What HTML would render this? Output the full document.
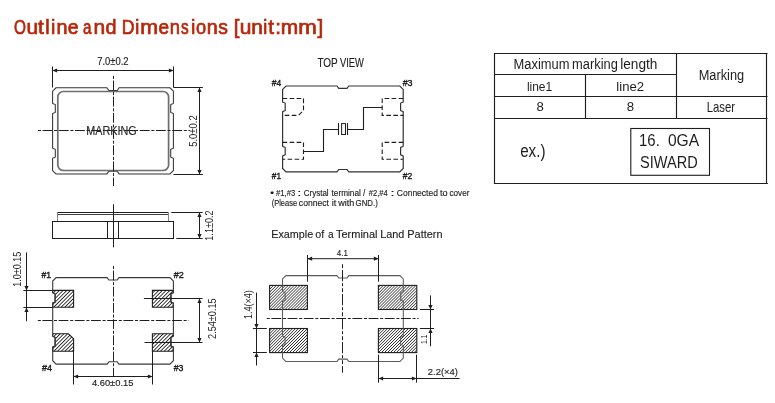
<!DOCTYPE html>
<html><head><meta charset="utf-8"><title>Outline and Dimensions</title>
<style>html,body{margin:0;padding:0;background:#fff;}body{width:775px;height:403px;overflow:hidden;font-family:"Liberation Sans",sans-serif;}svg{display:block;will-change:transform;}</style>
</head><body>
<svg width="775" height="403" viewBox="0 0 775 403">
<defs>
<pattern id="h1" width="2.1" height="4" patternUnits="userSpaceOnUse" patternTransform="rotate(45)"><rect x="0" y="0" width="0.66" height="4" fill="#1e1e1e"/></pattern>
<pattern id="h2" width="2.6" height="4" patternUnits="userSpaceOnUse" patternTransform="rotate(45)"><rect x="0" y="0" width="0.85" height="4" fill="#1e1e1e"/></pattern>
</defs>
<rect width="775" height="403" fill="#fff"/>
<g font-family="Liberation Sans, sans-serif">
<text x="13.97" y="33.60" font-size="20.60" textLength="11.96" lengthAdjust="spacingAndGlyphs" fill="#b8270b" stroke="#b8270b" stroke-width="0.7">O</text>
<text x="26.64" y="33.60" font-size="19.60" textLength="11.65" lengthAdjust="spacingAndGlyphs" fill="#b8270b" stroke="#b8270b" stroke-width="0.7">u</text>
<text x="38.09" y="33.60" font-size="19.60" textLength="5.77" lengthAdjust="spacingAndGlyphs" fill="#b8270b" stroke="#b8270b" stroke-width="0.7">t</text>
<text x="45.27" y="33.60" font-size="19.60" textLength="4.35" lengthAdjust="spacingAndGlyphs" fill="#b8270b" stroke="#b8270b" stroke-width="0.7">l</text>
<text x="50.98" y="33.60" font-size="19.60" textLength="4.35" lengthAdjust="spacingAndGlyphs" fill="#b8270b" stroke="#b8270b" stroke-width="0.7">i</text>
<text x="56.49" y="33.60" font-size="19.60" textLength="11.00" lengthAdjust="spacingAndGlyphs" fill="#b8270b" stroke="#b8270b" stroke-width="0.7">n</text>
<text x="67.68" y="33.60" font-size="19.60" textLength="10.79" lengthAdjust="spacingAndGlyphs" fill="#b8270b" stroke="#b8270b" stroke-width="0.7">e</text>
<text x="83.05" y="33.60" font-size="19.60" textLength="8.45" lengthAdjust="spacingAndGlyphs" fill="#b8270b" stroke="#b8270b" stroke-width="0.7">a</text>
<text x="93.51" y="33.60" font-size="19.60" textLength="11.65" lengthAdjust="spacingAndGlyphs" fill="#b8270b" stroke="#b8270b" stroke-width="0.7">n</text>
<text x="105.57" y="33.60" font-size="19.60" textLength="11.01" lengthAdjust="spacingAndGlyphs" fill="#b8270b" stroke="#b8270b" stroke-width="0.7">d</text>
<text x="121.65" y="33.60" font-size="20.60" textLength="12.80" lengthAdjust="spacingAndGlyphs" fill="#b8270b" stroke="#b8270b" stroke-width="0.7">D</text>
<text x="135.08" y="33.60" font-size="19.60" textLength="4.35" lengthAdjust="spacingAndGlyphs" fill="#b8270b" stroke="#b8270b" stroke-width="0.7">i</text>
<text x="140.28" y="33.60" font-size="19.60" textLength="17.83" lengthAdjust="spacingAndGlyphs" fill="#b8270b" stroke="#b8270b" stroke-width="0.7">m</text>
<text x="158.49" y="33.60" font-size="19.60" textLength="10.55" lengthAdjust="spacingAndGlyphs" fill="#b8270b" stroke="#b8270b" stroke-width="0.7">e</text>
<text x="169.78" y="33.60" font-size="19.60" textLength="10.21" lengthAdjust="spacingAndGlyphs" fill="#b8270b" stroke="#b8270b" stroke-width="0.7">n</text>
<text x="180.97" y="33.60" font-size="19.60" textLength="7.68" lengthAdjust="spacingAndGlyphs" fill="#b8270b" stroke="#b8270b" stroke-width="0.7">s</text>
<text x="191.03" y="33.60" font-size="19.60" textLength="4.35" lengthAdjust="spacingAndGlyphs" fill="#b8270b" stroke="#b8270b" stroke-width="0.7">i</text>
<text x="196.04" y="33.60" font-size="19.60" textLength="10.13" lengthAdjust="spacingAndGlyphs" fill="#b8270b" stroke="#b8270b" stroke-width="0.7">o</text>
<text x="206.69" y="33.60" font-size="19.60" textLength="11.00" lengthAdjust="spacingAndGlyphs" fill="#b8270b" stroke="#b8270b" stroke-width="0.7">n</text>
<text x="218.36" y="33.60" font-size="19.60" textLength="9.63" lengthAdjust="spacingAndGlyphs" fill="#b8270b" stroke="#b8270b" stroke-width="0.7">s</text>
<text x="233.83" y="33.60" font-size="20.60" textLength="5.72" lengthAdjust="spacingAndGlyphs" fill="#b8270b" stroke="#b8270b" stroke-width="0.7">[</text>
<text x="239.74" y="33.60" font-size="19.60" textLength="11.65" lengthAdjust="spacingAndGlyphs" fill="#b8270b" stroke="#b8270b" stroke-width="0.7">u</text>
<text x="251.21" y="33.60" font-size="19.60" textLength="11.65" lengthAdjust="spacingAndGlyphs" fill="#b8270b" stroke="#b8270b" stroke-width="0.7">n</text>
<text x="263.03" y="33.60" font-size="19.60" textLength="4.35" lengthAdjust="spacingAndGlyphs" fill="#b8270b" stroke="#b8270b" stroke-width="0.7">i</text>
<text x="268.19" y="33.60" font-size="19.60" textLength="5.77" lengthAdjust="spacingAndGlyphs" fill="#b8270b" stroke="#b8270b" stroke-width="0.7">t</text>
<text x="275.34" y="33.60" font-size="20.60" textLength="5.72" lengthAdjust="spacingAndGlyphs" fill="#b8270b" stroke="#b8270b" stroke-width="0.7">:</text>
<text x="280.82" y="33.60" font-size="19.60" textLength="17.36" lengthAdjust="spacingAndGlyphs" fill="#b8270b" stroke="#b8270b" stroke-width="0.7">m</text>
<text x="298.22" y="33.60" font-size="19.60" textLength="18.55" lengthAdjust="spacingAndGlyphs" fill="#b8270b" stroke="#b8270b" stroke-width="0.7">m</text>
<text x="317.49" y="33.60" font-size="20.60" textLength="5.72" lengthAdjust="spacingAndGlyphs" fill="#b8270b" stroke="#b8270b" stroke-width="0.7">]</text>
<path d="M56.0,87.8 L106.89999999999999,87.8 L108.8,90.5 L117.2,90.5 L119.10000000000001,87.8 L170.0,87.8 L173.4,91.2 L173.4,103.39999999999999 C173.4,103.99999999999999 170.70000000000002,103.8 170.70000000000002,104.6 L170.70000000000002,112.3 C170.70000000000002,113.1 173.4,112.9 173.4,113.5 L173.4,148.20000000000002 C173.4,148.8 170.70000000000002,148.60000000000002 170.70000000000002,149.4 L170.70000000000002,157.10000000000002 C170.70000000000002,157.9 173.4,157.70000000000002 173.4,158.3 L173.4,170.5 L170.0,173.9 L119.10000000000001,173.9 L117.2,171.20000000000002 L108.8,171.20000000000002 L106.89999999999999,173.9 L56.0,173.9 L52.6,170.5 L52.6,158.3 C52.6,157.70000000000002 55.300000000000004,157.9 55.300000000000004,157.10000000000002 L55.300000000000004,149.4 C55.300000000000004,148.60000000000002 52.6,148.8 52.6,148.20000000000002 L52.6,113.5 C52.6,112.9 55.300000000000004,113.1 55.300000000000004,112.3 L55.300000000000004,104.6 C55.300000000000004,103.8 52.6,103.99999999999999 52.6,103.39999999999999 L52.6,91.2 Z" stroke="#333" stroke-width="1.05" fill="none" />
<rect x="57.8" y="91.5" width="110.8" height="79" rx="5.6" ry="5.6" fill="none" stroke="#6e6e6e" stroke-width="1.7"/>
<line x1="38" y1="130.5" x2="190" y2="130.5" stroke="#1e1e1e" stroke-width="1" stroke-dasharray="3 1.6 9.8 1.8"/>
<line x1="113.5" y1="75.9" x2="113.5" y2="186" stroke="#1e1e1e" stroke-width="1" stroke-dasharray="3 1.6 9.8 1.8"/>
<text x="86.21" y="134.60" font-size="12.20" textLength="50.39" lengthAdjust="spacingAndGlyphs" fill="#2a2a2a"  stroke="#2a2a2a" stroke-width="0.15">MARKING</text>
<line x1="52.5" y1="66.5" x2="52.5" y2="87.5" stroke="#1e1e1e" stroke-width="1" />
<line x1="173.5" y1="66.5" x2="173.5" y2="87.5" stroke="#1e1e1e" stroke-width="1" />
<line x1="52.5" y1="70.5" x2="173.5" y2="70.5" stroke="#1e1e1e" stroke-width="1" />
<polygon points="52.50,70.50 57.10,68.40 57.10,72.60" fill="#1e1e1e"/>
<polygon points="173.50,70.50 168.90,68.40 168.90,72.60" fill="#1e1e1e"/>
<text x="97.22" y="64.90" font-size="10.20" textLength="31.36" lengthAdjust="spacingAndGlyphs" fill="#1e1e1e"  stroke="#1e1e1e" stroke-width="0.15">7.0±0.2</text>
<line x1="173.5" y1="87.5" x2="202.8" y2="87.5" stroke="#1e1e1e" stroke-width="1" />
<line x1="173.5" y1="174.5" x2="202.8" y2="174.5" stroke="#1e1e1e" stroke-width="1" />
<line x1="199.5" y1="87.5" x2="199.5" y2="174.5" stroke="#1e1e1e" stroke-width="1" />
<polygon points="199.50,87.50 197.40,92.10 201.60,92.10" fill="#1e1e1e"/>
<polygon points="199.50,174.50 197.40,169.90 201.60,169.90" fill="#1e1e1e"/>
<text  transform="translate(197.10,146.40) rotate(-90)" x="-0.38" y="0" font-size="10.30" textLength="31.45" lengthAdjust="spacingAndGlyphs" fill="#1e1e1e">5.0±0.2</text>
<line x1="57.3" y1="212.5" x2="168.5" y2="212.5" stroke="#1e1e1e" stroke-width="1" />
<line x1="57.3" y1="214.5" x2="168.5" y2="214.5" stroke="#1e1e1e" stroke-width="1" stroke-opacity="0.85"/>
<line x1="57.5" y1="212.5" x2="57.5" y2="221" stroke="#888" stroke-width="1" />
<line x1="168.5" y1="212.5" x2="168.5" y2="221" stroke="#888" stroke-width="1" />
<rect x="52.5" y="221.5" width="121" height="17" fill="none" stroke="#1e1e1e" stroke-width="1"/>
<line x1="107.5" y1="221.5" x2="107.5" y2="238.5" stroke="#1e1e1e" stroke-width="1" />
<line x1="118.5" y1="221.5" x2="118.5" y2="238.5" stroke="#1e1e1e" stroke-width="1" />
<line x1="113.5" y1="204.3" x2="113.5" y2="247.3" stroke="#1e1e1e" stroke-width="1" />
<line x1="171.3" y1="212.5" x2="202.7" y2="212.5" stroke="#1e1e1e" stroke-width="1" />
<line x1="176.3" y1="238.5" x2="202.7" y2="238.5" stroke="#1e1e1e" stroke-width="1" />
<line x1="199.5" y1="212.5" x2="199.5" y2="238.5" stroke="#1e1e1e" stroke-width="1" />
<polygon points="199.50,212.50 197.40,217.10 201.60,217.10" fill="#1e1e1e"/>
<polygon points="199.50,238.50 197.40,233.90 201.60,233.90" fill="#1e1e1e"/>
<text  transform="translate(213.30,240.00) rotate(-90)" x="-0.69" y="0" font-size="10.00" textLength="30.25" lengthAdjust="spacingAndGlyphs" fill="#1e1e1e">1.1±0.2</text>
<path d="M52.7,290.4 L73.6,290.4 L73.6,307.2 L52.7,307.2 L52.7,303.09999999999997 C52.7,302.49999999999994 55.1,302.7 55.1,301.9 L55.1,293.99999999999994 C55.1,293.19999999999993 52.7,293.4 52.7,292.79999999999995 Z" fill="url(#h2)" stroke="#1e1e1e" stroke-width="1.1"/>
<path d="M152.4,290.4 L173.3,290.4 L173.3,292.79999999999995 C173.3,293.4 170.9,293.19999999999993 170.9,293.99999999999994 L170.9,301.9 C170.9,302.7 173.3,302.49999999999994 173.3,303.09999999999997 L173.3,307.2 L152.4,307.2 Z" fill="url(#h2)" stroke="#1e1e1e" stroke-width="1.1"/>
<path d="M52.7,333.8 L68.39999999999999,333.8 L73.6,338.8 L73.6,351.2 L52.7,351.2 L52.7,347.09999999999997 C52.7,346.49999999999994 55.1,346.7 55.1,345.9 L55.1,337.4 C55.1,336.59999999999997 52.7,336.8 52.7,336.2 Z" fill="url(#h2)" stroke="#1e1e1e" stroke-width="1.1"/>
<path d="M152.4,333.8 L173.3,333.8 L173.3,336.2 C173.3,336.8 170.9,336.59999999999997 170.9,337.4 L170.9,345.9 C170.9,346.7 173.3,346.49999999999994 173.3,347.09999999999997 L173.3,351.2 L152.4,351.2 Z" fill="url(#h2)" stroke="#1e1e1e" stroke-width="1.1"/>
<path d="M56.1,277.6 L107.15000000000002,277.6 L108.95000000000002,280.0 L117.15,280.0 L118.95,277.6 L170.0,277.6 L173.4,281.0 L173.4,292.8 C173.4,293.40000000000003 171.0,293.2 171.0,294.0 L171.0,301.90000000000003 C171.0,302.70000000000005 173.4,302.5 173.4,303.1 L173.4,336.2 C173.4,336.8 171.0,336.59999999999997 171.0,337.4 L171.0,345.90000000000003 C171.0,346.70000000000005 173.4,346.5 173.4,347.1 L173.4,360.70000000000005 L170.0,364.1 L118.95,364.1 L117.15,361.70000000000005 L108.95000000000002,361.70000000000005 L107.15000000000002,364.1 L56.1,364.1 L52.7,360.70000000000005 L52.7,347.1 C52.7,346.5 55.1,346.70000000000005 55.1,345.90000000000003 L55.1,337.4 C55.1,336.59999999999997 52.7,336.8 52.7,336.2 L52.7,303.1 C52.7,302.5 55.1,302.70000000000005 55.1,301.90000000000003 L55.1,294.0 C55.1,293.2 52.7,293.40000000000003 52.7,292.8 L52.7,281.0 Z" stroke="#3a3a3a" stroke-width="1.1" fill="none" />
<line x1="37.8" y1="320.5" x2="188.6" y2="320.5" stroke="#1e1e1e" stroke-width="1" stroke-dasharray="3 1.6 9.8 1.8"/>
<line x1="113.5" y1="266" x2="113.5" y2="376.3" stroke="#1e1e1e" stroke-width="1" stroke-dasharray="3 1.6 9.8 1.8"/>
<text x="41.56" y="277.80" font-size="8.90" textLength="9.56" lengthAdjust="spacingAndGlyphs" fill="#1e1e1e" stroke="#1e1e1e" stroke-width="0.4">#1</text>
<text x="173.66" y="277.80" font-size="8.90" textLength="9.99" lengthAdjust="spacingAndGlyphs" fill="#1e1e1e" stroke="#1e1e1e" stroke-width="0.4">#2</text>
<text x="41.96" y="371.10" font-size="8.90" textLength="10.00" lengthAdjust="spacingAndGlyphs" fill="#1e1e1e" stroke="#1e1e1e" stroke-width="0.4">#4</text>
<text x="173.66" y="370.80" font-size="8.90" textLength="9.72" lengthAdjust="spacingAndGlyphs" fill="#1e1e1e" stroke="#1e1e1e" stroke-width="0.4">#3</text>
<line x1="23.4" y1="290.5" x2="52.7" y2="290.5" stroke="#1e1e1e" stroke-width="1" />
<line x1="23.4" y1="307.5" x2="52.7" y2="307.5" stroke="#1e1e1e" stroke-width="1" />
<line x1="26.5" y1="252.4" x2="26.5" y2="321.2" stroke="#1e1e1e" stroke-width="1" />
<polygon points="26.50,290.50 24.40,285.90 28.60,285.90" fill="#1e1e1e"/>
<polygon points="26.50,307.50 24.40,312.10 28.60,312.10" fill="#1e1e1e"/>
<text  transform="translate(20.90,286.00) rotate(-90)" x="-0.69" y="0" font-size="10.30" textLength="35.07" lengthAdjust="spacingAndGlyphs" fill="#1e1e1e">1.0±0.15</text>
<line x1="143.9" y1="298.5" x2="202.5" y2="298.5" stroke="#1e1e1e" stroke-width="1" />
<line x1="144.5" y1="342.5" x2="202.5" y2="342.5" stroke="#1e1e1e" stroke-width="1" />
<line x1="199.5" y1="298.5" x2="199.5" y2="342.5" stroke="#1e1e1e" stroke-width="1" />
<polygon points="199.50,298.50 197.40,303.10 201.60,303.10" fill="#1e1e1e"/>
<polygon points="199.50,342.50 197.40,337.90 201.60,337.90" fill="#1e1e1e"/>
<text  transform="translate(216.30,338.50) rotate(-90)" x="-0.46" y="0" font-size="10.10" textLength="40.64" lengthAdjust="spacingAndGlyphs" fill="#1e1e1e">2.54±0.15</text>
<line x1="73.5" y1="351.2" x2="73.5" y2="384.5" stroke="#1e1e1e" stroke-width="1" />
<line x1="152.5" y1="351.2" x2="152.5" y2="384.5" stroke="#1e1e1e" stroke-width="1" />
<line x1="73.5" y1="376.5" x2="152.5" y2="376.5" stroke="#1e1e1e" stroke-width="1" />
<polygon points="73.50,376.50 78.10,374.40 78.10,378.60" fill="#1e1e1e"/>
<polygon points="152.50,376.50 147.90,374.40 147.90,378.60" fill="#1e1e1e"/>
<text x="91.89" y="385.90" font-size="9.40" textLength="41.61" lengthAdjust="spacingAndGlyphs" fill="#1e1e1e"  stroke="#1e1e1e" stroke-width="0.15">4.60±0.15</text>
<text x="317.38" y="66.60" font-size="12.20" textLength="20.34" lengthAdjust="spacingAndGlyphs" fill="#1e1e1e"  stroke="#1e1e1e" stroke-width="0.15">TOP</text>
<text x="339.96" y="66.60" font-size="12.20" textLength="23.87" lengthAdjust="spacingAndGlyphs" fill="#1e1e1e"  stroke="#1e1e1e" stroke-width="0.15">VIEW</text>
<text x="271.86" y="85.90" font-size="9.20" textLength="9.38" lengthAdjust="spacingAndGlyphs" fill="#1e1e1e" stroke="#1e1e1e" stroke-width="0.4">#4</text>
<text x="402.66" y="85.90" font-size="9.20" textLength="9.93" lengthAdjust="spacingAndGlyphs" fill="#1e1e1e" stroke="#1e1e1e" stroke-width="0.4">#3</text>
<text x="271.86" y="178.90" font-size="9.20" textLength="9.14" lengthAdjust="spacingAndGlyphs" fill="#1e1e1e" stroke="#1e1e1e" stroke-width="0.4">#1</text>
<text x="402.66" y="178.90" font-size="9.20" textLength="9.47" lengthAdjust="spacingAndGlyphs" fill="#1e1e1e" stroke="#1e1e1e" stroke-width="0.4">#2</text>
<path d="M286.0,86.0 L336.99999999999994,86.0 L338.79999999999995,88.4 L347.0,88.4 L348.8,86.0 L399.8,86.0 L403.2,89.4 L403.2,102.0 C403.2,102.6 400.59999999999997,102.4 400.59999999999997,103.2 L400.59999999999997,110.39999999999999 C400.59999999999997,111.19999999999999 403.2,111.0 403.2,111.6 L403.2,146.3 C403.2,146.9 400.59999999999997,146.70000000000002 400.59999999999997,147.5 L400.59999999999997,154.70000000000002 C400.59999999999997,155.5 403.2,155.3 403.2,155.9 L403.2,168.5 L399.8,171.9 L348.8,171.9 L347.0,169.5 L338.79999999999995,169.5 L336.99999999999994,171.9 L286.0,171.9 L282.6,168.5 L282.6,155.9 C282.6,155.3 285.20000000000005,155.5 285.20000000000005,154.70000000000002 L285.20000000000005,147.5 C285.20000000000005,146.70000000000002 282.6,146.9 282.6,146.3 L282.6,111.6 C282.6,111.0 285.20000000000005,111.19999999999999 285.20000000000005,110.39999999999999 L285.20000000000005,103.2 C285.20000000000005,102.4 282.6,102.6 282.6,102.0 L282.6,89.4 Z" stroke="#333" stroke-width="1.2" fill="none" />
<path d="M282.6,98.5 L303.5,98.5 L303.5,110.6 L298.3,115.4 L282.6,115.4" stroke="#1e1e1e" stroke-width="1.1" fill="none" stroke-dasharray="4.6 2.4"/>
<path d="M403.2,98.5 L382.2,98.5 L382.2,115.4 L403.2,115.4" stroke="#1e1e1e" stroke-width="1.1" fill="none" stroke-dasharray="4.6 2.4"/>
<path d="M282.6,142.4 L303.5,142.4 L303.5,159.2 L282.6,159.2" stroke="#1e1e1e" stroke-width="1.1" fill="none" stroke-dasharray="4.6 2.4"/>
<path d="M403.2,142.4 L382.2,142.4 L382.2,159.2 L403.2,159.2" stroke="#1e1e1e" stroke-width="1.1" fill="none" stroke-dasharray="4.6 2.4"/>
<path d="M303.5,151.5 L323.5,151.5 L323.5,129.5 L338.5,129.5" stroke="#1e1e1e" stroke-width="1.1" fill="none" />
<path d="M382.2,107.5 L363.5,107.5 L363.5,129.5 L347.5,129.5" stroke="#1e1e1e" stroke-width="1.1" fill="none" />
<line x1="338.5" y1="123.1" x2="338.5" y2="135" stroke="#1e1e1e" stroke-width="1.1" />
<line x1="347.5" y1="123.1" x2="347.5" y2="135" stroke="#1e1e1e" stroke-width="1.1" />
<rect x="341.6" y="123.6" width="3.9" height="10.9" fill="none" stroke="#1e1e1e" stroke-width="1"/>
<text x="270.28" y="195.90" font-size="9.40" textLength="3.75" lengthAdjust="spacingAndGlyphs" fill="#1e1e1e"  stroke="#1e1e1e" stroke-width="0.15">•</text>
<text x="276.07" y="195.90" font-size="9.40" textLength="19.17" lengthAdjust="spacingAndGlyphs" fill="#1e1e1e"  stroke="#1e1e1e" stroke-width="0.15">#1,#3</text>
<text x="297.36" y="195.90" font-size="9.40" textLength="4.09" lengthAdjust="spacingAndGlyphs" fill="#1e1e1e"  stroke="#1e1e1e" stroke-width="0.15">:</text>
<text x="303.69" y="195.90" font-size="9.40" textLength="24.94" lengthAdjust="spacingAndGlyphs" fill="#1e1e1e"  stroke="#1e1e1e" stroke-width="0.15">Crystal</text>
<text x="331.58" y="195.90" font-size="9.40" textLength="29.28" lengthAdjust="spacingAndGlyphs" fill="#1e1e1e"  stroke="#1e1e1e" stroke-width="0.15">terminal</text>
<text x="363.00" y="195.90" font-size="9.40" textLength="2.30" lengthAdjust="spacingAndGlyphs" fill="#1e1e1e"  stroke="#1e1e1e" stroke-width="0.15">/</text>
<text x="368.87" y="195.90" font-size="9.40" textLength="18.85" lengthAdjust="spacingAndGlyphs" fill="#1e1e1e"  stroke="#1e1e1e" stroke-width="0.15">#2,#4</text>
<text x="390.56" y="195.90" font-size="9.40" textLength="4.09" lengthAdjust="spacingAndGlyphs" fill="#1e1e1e"  stroke="#1e1e1e" stroke-width="0.15">:</text>
<text x="396.77" y="195.90" font-size="9.40" textLength="41.18" lengthAdjust="spacingAndGlyphs" fill="#1e1e1e"  stroke="#1e1e1e" stroke-width="0.15">Connected</text>
<text x="440.06" y="195.90" font-size="9.40" textLength="7.62" lengthAdjust="spacingAndGlyphs" fill="#1e1e1e"  stroke="#1e1e1e" stroke-width="0.15">to</text>
<text x="449.45" y="195.90" font-size="9.40" textLength="19.98" lengthAdjust="spacingAndGlyphs" fill="#1e1e1e"  stroke="#1e1e1e" stroke-width="0.15">cover</text>
<text x="271.63" y="206.40" font-size="9.40" textLength="25.60" lengthAdjust="spacingAndGlyphs" fill="#1e1e1e"  stroke="#1e1e1e" stroke-width="0.15">(Please</text>
<text x="298.83" y="206.40" font-size="9.40" textLength="30.13" lengthAdjust="spacingAndGlyphs" fill="#1e1e1e"  stroke="#1e1e1e" stroke-width="0.15">connect</text>
<text x="331.79" y="206.40" font-size="9.40" textLength="4.58" lengthAdjust="spacingAndGlyphs" fill="#1e1e1e"  stroke="#1e1e1e" stroke-width="0.15">it</text>
<text x="338.21" y="206.40" font-size="9.40" textLength="16.07" lengthAdjust="spacingAndGlyphs" fill="#1e1e1e"  stroke="#1e1e1e" stroke-width="0.15">with</text>
<text x="355.61" y="206.40" font-size="9.40" textLength="22.18" lengthAdjust="spacingAndGlyphs" fill="#1e1e1e"  stroke="#1e1e1e" stroke-width="0.15">GND.)</text>
<text x="271.22" y="238.30" font-size="11.80" textLength="41.96" lengthAdjust="spacingAndGlyphs" fill="#1e1e1e"  stroke="#1e1e1e" stroke-width="0.15">Example</text>
<text x="315.35" y="238.30" font-size="11.80" textLength="8.93" lengthAdjust="spacingAndGlyphs" fill="#1e1e1e"  stroke="#1e1e1e" stroke-width="0.15">of</text>
<text x="327.97" y="238.30" font-size="11.80" textLength="5.63" lengthAdjust="spacingAndGlyphs" fill="#1e1e1e"  stroke="#1e1e1e" stroke-width="0.15">a</text>
<text x="335.96" y="238.30" font-size="11.80" textLength="41.55" lengthAdjust="spacingAndGlyphs" fill="#1e1e1e"  stroke="#1e1e1e" stroke-width="0.15">Terminal</text>
<text x="380.21" y="238.30" font-size="11.80" textLength="24.09" lengthAdjust="spacingAndGlyphs" fill="#1e1e1e"  stroke="#1e1e1e" stroke-width="0.15">Land</text>
<text x="407.30" y="238.30" font-size="11.80" textLength="35.20" lengthAdjust="spacingAndGlyphs" fill="#1e1e1e"  stroke="#1e1e1e" stroke-width="0.15">Pattern</text>
<rect x="269.6" y="285.4" width="37.799999999999955" height="24.100000000000023" fill="url(#h1)" stroke="#1e1e1e" stroke-width="1.1"/>
<rect x="269.6" y="328.5" width="37.799999999999955" height="24.100000000000023" fill="url(#h1)" stroke="#1e1e1e" stroke-width="1.1"/>
<rect x="378.4" y="285.4" width="38.400000000000034" height="24.100000000000023" fill="url(#h1)" stroke="#1e1e1e" stroke-width="1.1"/>
<rect x="378.4" y="328.5" width="38.400000000000034" height="24.100000000000023" fill="url(#h1)" stroke="#1e1e1e" stroke-width="1.1"/>
<path d="M285.9,275.6 L336.99999999999994,275.6 L338.79999999999995,278.0 L347.0,278.0 L348.8,275.6 L399.90000000000003,275.6 L403.3,279.0 L403.3,291.6 C403.3,292.20000000000005 400.7,292.0 400.7,292.8 L400.7,300.00000000000006 C400.7,300.80000000000007 403.3,300.6 403.3,301.20000000000005 L403.3,335.9 C403.3,336.5 400.7,336.29999999999995 400.7,337.09999999999997 L400.7,344.3 C400.7,345.1 403.3,344.9 403.3,345.5 L403.3,358.1 L399.90000000000003,361.5 L348.8,361.5 L347.0,359.1 L338.79999999999995,359.1 L336.99999999999994,361.5 L285.9,361.5 L282.5,358.1 L282.5,345.5 C282.5,344.9 285.1,345.1 285.1,344.3 L285.1,337.09999999999997 C285.1,336.29999999999995 282.5,336.5 282.5,335.9 L282.5,301.20000000000005 C282.5,300.6 285.1,300.80000000000007 285.1,300.00000000000006 L285.1,292.8 C285.1,292.0 282.5,292.20000000000005 282.5,291.6 L282.5,279.0 Z" stroke="#5a5a5a" stroke-width="1.05" fill="none" />
<line x1="266.8" y1="318.5" x2="418.6" y2="318.5" stroke="#1e1e1e" stroke-width="1" stroke-dasharray="3 1.6 9.8 1.8"/>
<line x1="342.5" y1="264.2" x2="342.5" y2="372.7" stroke="#1e1e1e" stroke-width="1" stroke-dasharray="4 2 11 2 3 2"/>
<line x1="307.5" y1="255" x2="307.5" y2="281.7" stroke="#1e1e1e" stroke-width="1" />
<line x1="378.5" y1="255" x2="378.5" y2="281.7" stroke="#1e1e1e" stroke-width="1" />
<line x1="307.5" y1="258.7" x2="378.5" y2="258.7" stroke="#1e1e1e" stroke-width="1" />
<polygon points="307.50,258.70 312.10,256.60 312.10,260.80" fill="#1e1e1e"/>
<polygon points="378.50,258.70 373.90,256.60 373.90,260.80" fill="#1e1e1e"/>
<text x="336.82" y="255.90" font-size="9.00" textLength="11.07" lengthAdjust="spacingAndGlyphs" fill="#1e1e1e"  stroke="#1e1e1e" stroke-width="0.15">4.1</text>
<line x1="252.9" y1="328.5" x2="266.8" y2="328.5" stroke="#1e1e1e" stroke-width="1" />
<line x1="252.9" y1="352.5" x2="266.8" y2="352.5" stroke="#1e1e1e" stroke-width="1" />
<line x1="256.5" y1="292.6" x2="256.5" y2="365.5" stroke="#1e1e1e" stroke-width="1" />
<polygon points="256.50,328.50 254.40,323.90 258.60,323.90" fill="#1e1e1e"/>
<polygon points="256.50,352.50 254.40,357.10 258.60,357.10" fill="#1e1e1e"/>
<text  transform="translate(252.30,318.40) rotate(-90)" x="-0.69" y="0" font-size="11.00" textLength="28.95" lengthAdjust="spacingAndGlyphs" fill="#1e1e1e">1.4(×4)</text>
<line x1="419.9" y1="309.5" x2="434.0" y2="309.5" stroke="#1e1e1e" stroke-width="1" />
<line x1="419.9" y1="328.5" x2="434.0" y2="328.5" stroke="#1e1e1e" stroke-width="1" />
<line x1="430.5" y1="295.4" x2="430.5" y2="346.3" stroke="#1e1e1e" stroke-width="1" />
<polygon points="430.50,309.50 428.40,304.90 432.60,304.90" fill="#1e1e1e"/>
<polygon points="430.50,328.50 428.40,333.10 432.60,333.10" fill="#1e1e1e"/>
<text  transform="translate(426.80,343.60) rotate(-90)" x="-0.52" y="0" font-size="9.40" textLength="9.56" lengthAdjust="spacingAndGlyphs" fill="#1e1e1e">1.1</text>
<line x1="378.5" y1="354.7" x2="378.5" y2="382.6" stroke="#1e1e1e" stroke-width="1" />
<line x1="416.5" y1="354.7" x2="416.5" y2="382.6" stroke="#1e1e1e" stroke-width="1" />
<line x1="378.5" y1="378.5" x2="459.6" y2="378.5" stroke="#1e1e1e" stroke-width="1" />
<polygon points="378.50,378.50 383.10,376.40 383.10,380.60" fill="#1e1e1e"/>
<polygon points="416.50,378.50 411.90,376.40 411.90,380.60" fill="#1e1e1e"/>
<text x="427.83" y="374.90" font-size="9.80" textLength="30.06" lengthAdjust="spacingAndGlyphs" fill="#1e1e1e"  stroke="#1e1e1e" stroke-width="0.15">2.2(×4)</text>
<line x1="494.0" y1="53.5" x2="767.5" y2="53.5" stroke="#1e1e1e" stroke-width="1.15" />
<line x1="494.5" y1="74.5" x2="676.5" y2="74.5" stroke="#1e1e1e" stroke-width="1.15" />
<line x1="494.5" y1="96.5" x2="767.5" y2="96.5" stroke="#1e1e1e" stroke-width="1.15" />
<line x1="494.5" y1="118.5" x2="767.5" y2="118.5" stroke="#1e1e1e" stroke-width="1.15" />
<line x1="494.0" y1="183.5" x2="767.9" y2="183.5" stroke="#1e1e1e" stroke-width="1.15" />
<line x1="494.5" y1="53.0" x2="494.5" y2="184.0" stroke="#1e1e1e" stroke-width="1.15" />
<line x1="766.5" y1="53.0" x2="766.5" y2="184.0" stroke="#1e1e1e" stroke-width="1.15" />
<line x1="585.5" y1="74.5" x2="585.5" y2="118.5" stroke="#1e1e1e" stroke-width="1.15" />
<line x1="676.5" y1="53.5" x2="676.5" y2="118.5" stroke="#1e1e1e" stroke-width="1.15" />
<text x="513.54" y="68.80" font-size="14.00" textLength="55.91" lengthAdjust="spacingAndGlyphs" fill="#1e1e1e" >Maximum</text>
<text x="572.05" y="68.80" font-size="14.00" textLength="45.78" lengthAdjust="spacingAndGlyphs" fill="#1e1e1e" >marking</text>
<text x="620.18" y="68.80" font-size="14.00" textLength="37.21" lengthAdjust="spacingAndGlyphs" fill="#1e1e1e" >length</text>
<text x="698.65" y="79.70" font-size="14.00" textLength="45.47" lengthAdjust="spacingAndGlyphs" fill="#1e1e1e" >Marking</text>
<text x="526.89" y="90.90" font-size="13.40" textLength="25.29" lengthAdjust="spacingAndGlyphs" fill="#1e1e1e" >line1</text>
<text x="616.32" y="90.90" font-size="13.40" textLength="27.75" lengthAdjust="spacingAndGlyphs" fill="#1e1e1e" >line2</text>
<text x="536.53" y="111.40" font-size="12.50" textLength="7.35" lengthAdjust="spacingAndGlyphs" fill="#1e1e1e" >8</text>
<text x="626.73" y="111.40" font-size="12.50" textLength="7.35" lengthAdjust="spacingAndGlyphs" fill="#1e1e1e" >8</text>
<text x="706.67" y="111.90" font-size="14.20" textLength="28.42" lengthAdjust="spacingAndGlyphs" fill="#1e1e1e" >Laser</text>
<text x="520.15" y="156.90" font-size="17.50" textLength="25.39" lengthAdjust="spacingAndGlyphs" fill="#1e1e1e" >ex.)</text>
<rect x="630.8" y="128.5" width="78.7" height="46.8" fill="none" stroke="#1e1e1e" stroke-width="1.1"/>
<text x="639.06" y="145.80" font-size="16.80" textLength="20.81" lengthAdjust="spacingAndGlyphs" fill="#1e1e1e" >16.</text>
<text x="667.89" y="145.80" font-size="16.80" textLength="31.24" lengthAdjust="spacingAndGlyphs" fill="#1e1e1e" >0GA</text>
<text x="640.05" y="167.50" font-size="17.20" textLength="57.64" lengthAdjust="spacingAndGlyphs" fill="#1e1e1e" >SIWARD</text>
</g></svg>
</body></html>
